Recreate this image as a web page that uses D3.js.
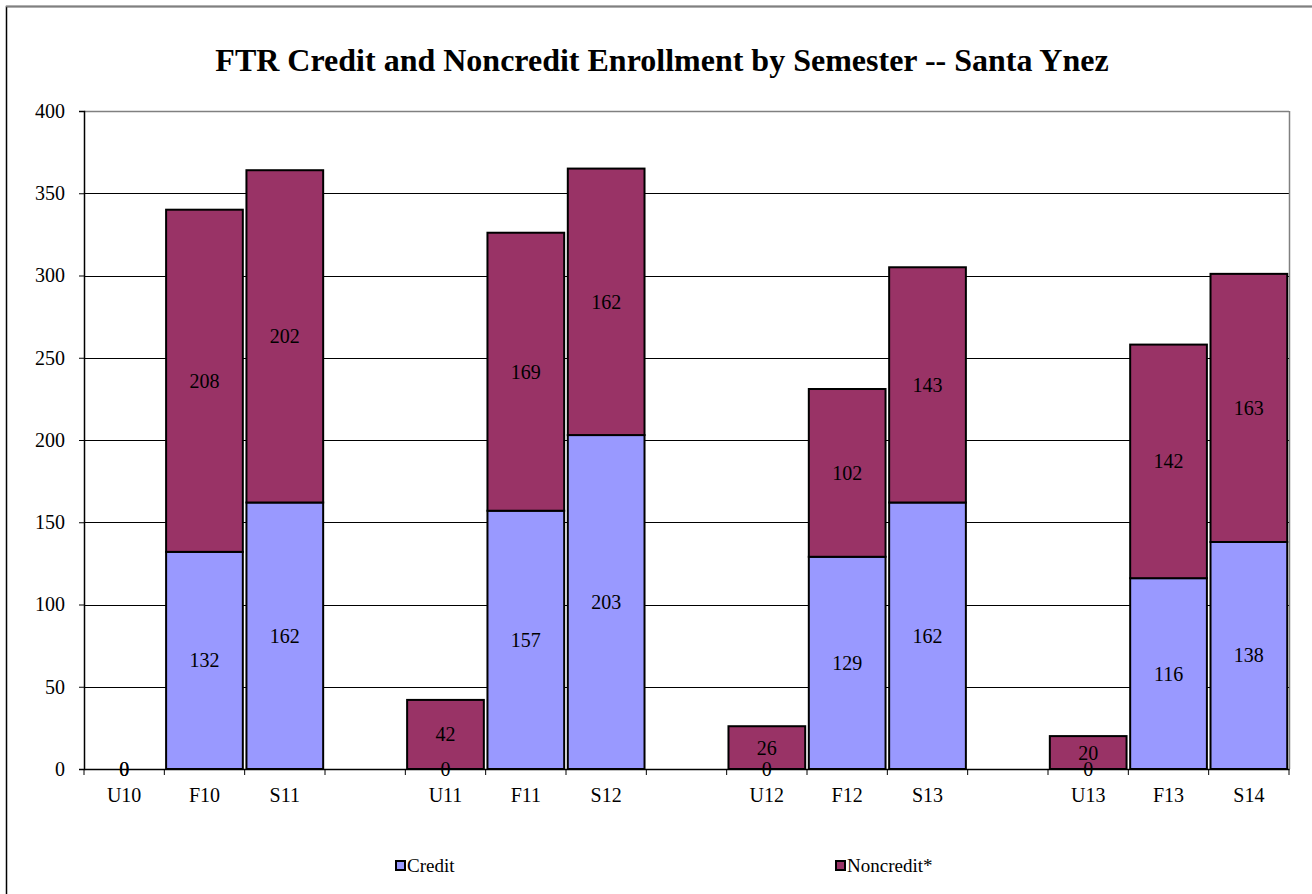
<!DOCTYPE html>
<html>
<head>
<meta charset="utf-8">
<script src="https://cdn.jsdelivr.net/npm/d3@7"></script>
<style>
  html, body { margin: 0; padding: 0; background: #fff; }
  svg { display: block; }
  text { font-family: "Liberation Serif", "Times New Roman", serif; fill: #000; }
</style>
</head>
<body>
<svg id="chart" width="1312" height="894"></svg>
<script>
// ---- data ----
const categories = ["U10", "F10", "S11", "", "U11", "F11", "S12", "", "U12", "F12", "S13", "", "U13", "F13", "S14"];
const credit    = [0, 132, 162, null, 0, 157, 203, null, 0, 129, 162, null, 0, 116, 138];
const noncredit = [0, 208, 202, null, 42, 169, 162, null, 26, 102, 143, null, 20, 142, 163];
const yTicks = [0, 50, 100, 150, 200, 250, 300, 350, 400];
const seriesNames = ["Credit", "Noncredit*"];
const seriesColors = ["#9999FF", "#993366"];
const title = "FTR Credit and Noncredit Enrollment by Semester -- Santa Ynez";

// ---- layout ----
const svg = d3.select("#chart");
const plot = { left: 84, right: 1289, top: 111, bottom: 769 };
const FS = 20;

// outer border
svg.append("rect").attr("x", 6.5).attr("y", 6.5).attr("width", 1320).attr("height", 900)
  .attr("fill", "none").attr("stroke", "#000").attr("stroke-width", 1.5);
svg.append("line").attr("x1", 6).attr("x2", 1312).attr("y1", 6.5).attr("y2", 6.5)
  .attr("stroke", "#808080").attr("stroke-width", 1.5);

svg.append("text").attr("x", 662).attr("y", 71).attr("text-anchor", "middle")
  .attr("font-size", 32).attr("font-weight", "bold").text(title);

const idx = categories.map((_, i) => i);
const x = d3.scaleBand().domain(idx).range([plot.left, plot.right]).paddingInner(0.045).paddingOuter(0.022);
const y = d3.scaleLinear().domain([0, 400]).range([plot.bottom, plot.top]);

// gridlines
svg.append("g").selectAll("line").data(yTicks.filter(t => t > 0 && t < 400)).join("line")
  .attr("x1", plot.left).attr("x2", plot.right)
  .attr("y1", d => Math.round(y(d)) + 0.5).attr("y2", d => Math.round(y(d)) + 0.5)
  .attr("stroke", "#000").attr("stroke-width", 1);
// top and right border (gray)
svg.append("line").attr("x1", plot.left).attr("x2", plot.right)
  .attr("y1", Math.round(y(400)) + 0.5).attr("y2", Math.round(y(400)) + 0.5)
  .attr("stroke", "#808080").attr("stroke-width", 1.5);
svg.append("line").attr("x1", plot.right + 0.5).attr("x2", plot.right + 0.5)
  .attr("y1", plot.top).attr("y2", plot.bottom)
  .attr("stroke", "#808080").attr("stroke-width", 1.5);

// bars
const rows = idx.filter(i => credit[i] !== null).map(i => ({ i, c: credit[i], n: noncredit[i] }));
const gBars = svg.append("g");
rows.forEach(r => {
  const x0 = x(r.i), w = x.bandwidth();
  const segs = [
    { v0: 0, v1: r.c, color: seriesColors[0] },
    { v0: r.c, v1: r.c + r.n, color: seriesColors[1] }
  ];
  segs.forEach(s => {
    if (s.v1 - s.v0 <= 0) return;
    gBars.append("rect").attr("x", x0).attr("y", y(s.v1)).attr("width", w)
      .attr("height", y(s.v0) - y(s.v1)).attr("fill", s.color)
      .attr("stroke", "#000").attr("stroke-width", 2);
  });
});

// axes
const yAxis = d3.axisLeft(y).tickValues(yTicks).tickSize(5).tickPadding(14);
const gy = svg.append("g").attr("transform", `translate(${plot.left},0)`).call(yAxis);
gy.select(".domain").attr("stroke", "#000").attr("stroke-width", 1.5);
gy.selectAll(".tick line").attr("stroke", "#000");
gy.selectAll("text").attr("font-size", FS).attr("font-family", "Liberation Serif");

const xAxis = d3.axisBottom(x).tickFormat(i => categories[i]).tickSize(0).tickPadding(19);
const gx = svg.append("g").attr("transform", `translate(0,${plot.bottom})`).call(xAxis);
gx.select(".domain").attr("stroke", "#000").attr("stroke-width", 1.5);
gx.selectAll("text").attr("font-size", FS).attr("font-family", "Liberation Serif");
// boundary tick marks
const bounds = d3.range(categories.length + 1).map(k => plot.left + k * (plot.right - plot.left) / categories.length);
svg.append("g").selectAll("line").data(bounds).join("line")
  .attr("x1", d => d).attr("x2", d => d).attr("y1", plot.bottom).attr("y2", plot.bottom + 6)
  .attr("stroke", "#000").attr("stroke-width", 1);

// data labels
const gl = svg.append("g").attr("font-size", FS).attr("text-anchor", "middle");
rows.forEach(r => {
  const cx = x(r.i) + x.bandwidth() / 2;
  gl.append("text").attr("x", cx).attr("y", y(r.c / 2)).attr("dy", "0.35em").text(r.c);
  gl.append("text").attr("x", cx).attr("y", y(r.c + r.n / 2)).attr("dy", "0.35em").text(r.n);
});

// legend
const legendX = [396, 836];
seriesNames.forEach((name, k) => {
  svg.append("rect").attr("x", legendX[k]).attr("y", 861).attr("width", 9).attr("height", 9)
    .attr("fill", seriesColors[k]).attr("stroke", "#000").attr("stroke-width", 2);
  svg.append("text").attr("x", legendX[k] + 11).attr("y", 872).attr("font-size", FS - 1).text(name);
});
</script>
</body>
</html>
